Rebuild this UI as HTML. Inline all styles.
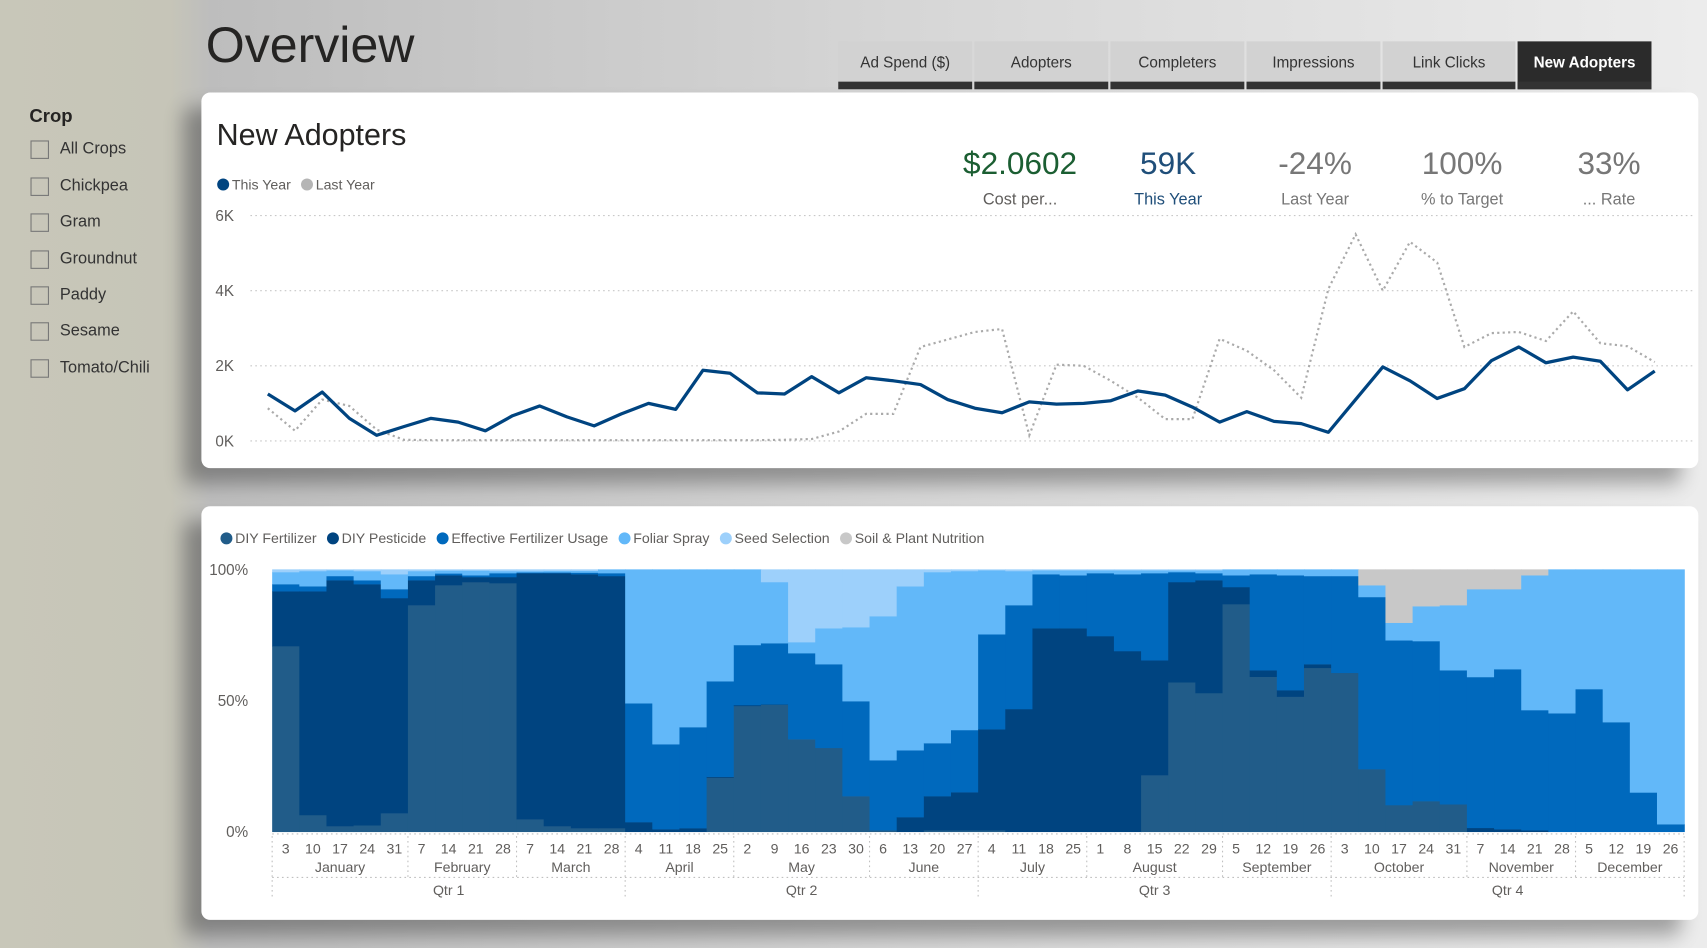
<!DOCTYPE html>
<html><head><meta charset="utf-8">
<style>
html,body{margin:0;padding:0;width:1707px;height:948px;overflow:hidden;}
body{background:linear-gradient(to right,#c8c7b9 0px,#c6c5b8 170px,#bdbdbd 210px,#d6d6d6 900px,#ececec 1707px);font-family:"Liberation Sans Narrow","Liberation Sans",sans-serif;}
#frame{position:absolute;left:0;top:0;width:1568px;height:871px;transform:scale(1.08865);transform-origin:0 0;}
.card{position:absolute;background:#fff;border-radius:8px;box-shadow:-16px 14px 18px rgba(0,0,0,0.32);}
.tab{position:absolute;top:38px;height:37px;background:#d2d2d2;border-bottom:7px solid #333;color:#333;font-size:14px;text-align:center;line-height:38px;}
.tab.active{background:#2b2b2b;color:#fff;font-weight:bold;}
.cb{position:absolute;left:28px;width:15px;height:15px;border:1px solid #777;background:transparent;}
.cbl{position:absolute;left:55px;font-size:15px;color:#333;}
svg text{font-family:"Liberation Sans Narrow","Liberation Sans",sans-serif;}
</style></head><body>
<div id="frame">
<div style="position:absolute;left:189px;top:14px;font-size:46px;color:#252423;">Overview</div>

<div class="tab" style="left:770px;width:123px;">Ad Spend ($)</div>
<div class="tab" style="left:895px;width:123px;">Adopters</div>
<div class="tab" style="left:1020px;width:123px;">Completers</div>
<div class="tab" style="left:1145px;width:123px;">Impressions</div>
<div class="tab" style="left:1270px;width:122px;">Link Clicks</div>
<div class="tab active" style="left:1394px;width:123px;">New Adopters</div>

<div style="position:absolute;left:27px;top:97px;font-size:17px;color:#252423;font-weight:bold;">Crop</div>
<div class="cb" style="top:129px"></div><div class="cbl" style="top:128px">All Crops</div>
<div class="cb" style="top:163px"></div><div class="cbl" style="top:162px">Chickpea</div>
<div class="cb" style="top:196px"></div><div class="cbl" style="top:195px">Gram</div>
<div class="cb" style="top:230px"></div><div class="cbl" style="top:229px">Groundnut</div>
<div class="cb" style="top:263px"></div><div class="cbl" style="top:262px">Paddy</div>
<div class="cb" style="top:296px"></div><div class="cbl" style="top:295px">Sesame</div>
<div class="cb" style="top:330px"></div><div class="cbl" style="top:329px">Tomato/Chili</div>

<div class="card" style="left:185px;top:85px;width:1375px;height:345px;"></div>
<div class="card" style="left:185px;top:465px;width:1375px;height:380px;"></div>

<svg id="chart" width="1568" height="871" style="position:absolute;left:0;top:0;">
<text x="199" y="133" font-size="28" fill="#252423">New Adopters</text>
<g>
<circle cx="205" cy="169.5" r="5.5" fill="#004480"/>
<text x="213" y="174" font-size="13" fill="#605e5c">This Year</text>
<circle cx="282" cy="169.5" r="5.5" fill="#b5b5b5"/>
<text x="290" y="174" font-size="13" fill="#605e5c">Last Year</text>
</g>
<g>
<text x="937" y="160" font-size="29" fill="#1b5e32" text-anchor="middle">$2.0602</text>
<text x="937" y="188" font-size="15" fill="#605e5c" text-anchor="middle">Cost per...</text>
<text x="1073" y="160" font-size="29" fill="#1f4e79" text-anchor="middle">59K</text>
<text x="1073" y="188" font-size="15" fill="#1f4e79" text-anchor="middle">This Year</text>
<text x="1208" y="160" font-size="29" fill="#777" text-anchor="middle">-24%</text>
<text x="1208" y="188" font-size="15" fill="#777" text-anchor="middle">Last Year</text>
<text x="1343" y="160" font-size="29" fill="#777" text-anchor="middle">100%</text>
<text x="1343" y="188" font-size="15" fill="#777" text-anchor="middle">% to Target</text>
<text x="1478" y="160" font-size="29" fill="#777" text-anchor="middle">33%</text>
<text x="1478" y="188" font-size="15" fill="#777" text-anchor="middle">... Rate</text>
</g>
<g id="lineg"></g>
<g id="areag"></g>
</svg>
</div>
<script>
// ---- line chart data (thousands) ----
const yTicksLine = [0, 2, 4, 6];
const yTickLabelsLine = ["0K", "2K", "4K", "6K"];
const thisYear = [1.25,0.8,1.3,0.6,0.15,0.38,0.6,0.5,0.27,0.67,0.93,0.64,0.4,0.72,1.0,0.84,1.88,1.8,1.28,1.25,1.71,1.28,1.68,1.6,1.5,1.1,0.87,0.75,1.04,0.98,1.0,1.07,1.33,1.22,0.9,0.5,0.78,0.52,0.46,0.23,1.1,1.97,1.6,1.13,1.39,2.14,2.5,2.08,2.23,2.12,1.36,1.86];
const lastYear = [0.87,0.27,1.1,0.93,0.3,0.03,0.02,0.02,0.02,0.02,0.02,0.02,0.02,0.02,0.02,0.02,0.02,0.02,0.02,0.03,0.05,0.25,0.72,0.72,2.5,2.7,2.9,2.98,0.15,2.03,2.0,1.6,1.15,0.58,0.58,2.72,2.4,1.88,1.15,4.05,5.5,4.0,5.3,4.75,2.5,2.87,2.9,2.66,3.45,2.6,2.52,2.1];

// ---- stacked area data (% share per week) ----
const seriesNames = ["DIY Fertilizer","DIY Pesticide","Effective Fertilizer Usage","Foliar Spray","Seed Selection","Soil & Plant Nutrition"];
const diyFertilizer = [70.8,6.4,2.2,2.5,7.1,86.4,94,95.2,94.8,4.8,2.2,1.4,1.4,0,0,0,20.7,48,48.5,35.3,32,13.6,0.6,0,0.6,0.6,0.6,0,0,0,0,0,21.6,57,52.9,86.8,59.1,51.5,62.5,60.6,23.9,10.2,11.7,10.5,0,0,0,0,0,0,0,0];
const diyPesticide = [20.9,85.3,93.7,91.9,82.0,9.5,3.8,1.9,2.3,93.8,96.4,96.8,96.1,3.7,1.0,1.4,0.3,0.3,0.1,0,0,0,0,5.6,13.0,14.5,38.5,46.8,77.6,77.6,74.6,68.9,43.8,38.2,43.0,6.5,2.5,2.5,1.4,0,0,0,0,0,1.5,1.0,0.6,0,0,0,0,0];
const effectiveFert = [2.7,1.9,1.6,1.5,3.4,1.6,0.7,0.7,1.5,0.3,0.3,0.6,1.1,45.3,32.4,38.5,36.4,22.9,23.3,32.8,31.9,36.2,26.7,25.5,20.2,23.7,36.2,39.6,20.6,20.2,24.0,29.3,33.2,3.8,2.7,4.5,36.6,43.8,33.6,36.9,65.6,62.8,61.0,51.1,57.5,61.0,45.8,45.2,54.4,41.8,15.0,2.9];
const foliarSpray = [4.6,5.8,2.2,3.5,5.7,1.9,1.1,1.8,0.8,0.5,0.6,0.7,1.4,51,66.6,60.1,42.6,28.8,23.3,4.2,13.7,28.2,54.9,62.5,65.2,60.6,24.4,13.0,1.5,1.9,1.1,1.5,1.1,0.7,1.1,2.2,1.8,2.2,2.5,2.5,4.5,6.7,13.3,24.8,33.5,30.5,51.4,54.8,45.6,58.2,85.0,97.1];
const seedSelection = [1.0,0.6,0.3,0.6,1.8,0.6,0.4,0.4,0.6,0.6,0.5,0.5,0,0,0,0,0,0,4.8,27.7,22.4,22.0,17.8,6.4,1.0,0.6,0.3,0.6,0.3,0.3,0.3,0.3,0.3,0.3,0.3,0,0,0,0,0,0,0,0,0,0,0,0,0,0,0,0,0];
const soilNutrition = [0,0,0,0,0,0,0,0,0,0,0,0,0,0,0,0,0,0,0,0,0,0,0,0,0,0,0,0,0,0,0,0,0,0,0,0,0,0,0,0,6,20.3,14,13.6,7.5,7.5,2.2,0,0,0,0,0];
const weekDays = [3,10,17,24,31,7,14,21,28,7,14,21,28,4,11,18,25,2,9,16,23,30,6,13,20,27,4,11,18,25,1,8,15,22,29,5,12,19,26,3,10,17,24,31,7,14,21,28,5,12,19,26];
const monthNames = ["January","February","March","April","May","June","July","August","September","October","November","December"];
const weeksPerMonth = [5,4,4,4,5,4,4,5,4,5,4,4];
const quarterNames = ["Qtr 1","Qtr 2","Qtr 3","Qtr 4"];
const areaTicks = [0,50,100];
const areaTickLabels = ["0%","50%","100%"];

const NS="http://www.w3.org/2000/svg";
function mk(tag, attrs, parent){const e=document.createElementNS(NS,tag);for(const k in attrs)e.setAttribute(k,attrs[k]);parent.appendChild(e);return e;}

// line chart
const lg=document.getElementById('lineg');
const lx0=246, lx1=1520, ly0=405, ly1=198;
const lxs=i=>lx0+(lx1-lx0)*i/(thisYear.length-1);
const lys=v=>ly0-(ly0-ly1)*v/6;
yTicksLine.forEach((t,k)=>{
  const gl=mk('line',{x1:230,x2:1555,y1:lys(t),y2:lys(t),stroke:'#c8c8c8','stroke-dasharray':'1.5,3','stroke-width':1},lg);
  
  
  const tx=mk('text',{x:215,y:lys(t)+5,'font-size':14,fill:'#605e5c','text-anchor':'end'},lg);
  tx.textContent=yTickLabelsLine[k];
  
  
});
const lyPath=mk('polyline',{points:lastYear.map((v,i)=>lxs(i)+','+lys(v)).join(' '),fill:'none',stroke:'#aaaaaa','stroke-width':2,'stroke-dasharray':'2,3'},lg);


const tyPath=mk('polyline',{points:thisYear.map((v,i)=>lxs(i)+','+lys(v)).join(' '),fill:'none',stroke:'#004480','stroke-width':3,'stroke-linejoin':'round'},lg);



// stacked area
const ag=document.getElementById('areag');
const colors=["#215c89","#004480","#0069bd","#62b8f9","#9dd0fb","#c8c8c8"];
const series=[diyFertilizer,diyPesticide,effectiveFert,foliarSpray,seedSelection,soilNutrition];
const ax0=250, ax1=1547, ay0=764, ay1=523;
const n=weekDays.length, bw=(ax1-ax0)/n;
const axs=i=>ax0+bw*i;
const ays=v=>ay0-(ay0-ay1)*v/100;
// legend
let lxp=202;
seriesNames.forEach((nm,k)=>{
  const c=mk('circle',{cx:lxp+6,cy:494.5,r:5.5,fill:colors[k]},ag);
  
  
  const t=mk('text',{x:lxp+14,y:499,'font-size':13,fill:'#605e5c'},ag);
  t.textContent=nm;
  
  
  lxp+=14+t.getComputedTextLength()+9;
});
for(let i=0;i<n;i++){
  let base=0;
  series.forEach((s,k)=>{
    const v=s[i]; if(v<=0){return;}
    const r=mk('rect',{x:axs(i),y:ays(base+v),width:bw+0.6,height:ays(base)-ays(base+v)+0.3,fill:colors[k]},ag);
    
    
    base+=v;
  });
}
areaTicks.forEach((t,k)=>{
  const tx=mk('text',{x:228,y:ays(t)+5,'font-size':14,fill:'#605e5c','text-anchor':'end'},ag);
  tx.textContent=areaTickLabels[k];
  
  
});
// x labels
weekDays.forEach((d,i)=>{
  const tx=mk('text',{x:axs(i)+bw/2,y:784,'font-size':13,fill:'#605e5c','text-anchor':'middle'},ag);
  tx.textContent=d;
  
  
});
const dashes={stroke:'#c0c0c0','stroke-dasharray':'1.5,3','stroke-width':1};
let idx=0;
weeksPerMonth.forEach((w,m)=>{
  const tx=mk('text',{x:axs(idx)+bw*w/2,y:801,'font-size':13,fill:'#605e5c','text-anchor':'middle'},ag);
  tx.textContent=monthNames[m];
  
  
  const sl=mk('line',Object.assign({x1:axs(idx),x2:axs(idx),y1:768,y2:(m%3===0)?826:806},dashes),ag);
  
  
  idx+=w;
});
const el=mk('line',Object.assign({x1:ax1,x2:ax1,y1:768,y2:826},dashes),ag);


const hl=mk('line',Object.assign({x1:ax0,x2:ax1,y1:806,y2:806},dashes),ag);


const hl2=mk('line',Object.assign({x1:ax0,x2:ax1,y1:766,y2:766},dashes),ag);


quarterNames.forEach((q,k)=>{
  const tx=mk('text',{x:axs(k*13)+bw*6.5,y:822,'font-size':13,fill:'#605e5c','text-anchor':'middle'},ag);
  tx.textContent=q;
  
  
});
</script>
</body></html>
